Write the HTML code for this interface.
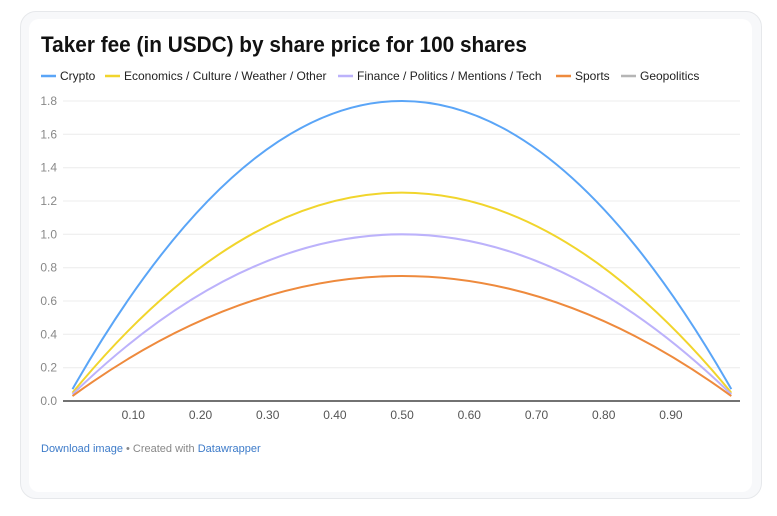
<!DOCTYPE html>
<html><head><meta charset="utf-8"><style>
html,body{margin:0;padding:0;background:#fff;}
body{width:777px;height:516px;position:relative;overflow:hidden;font-family:"Liberation Sans",Roboto,sans-serif;}
.outer{position:absolute;left:20px;top:11px;width:742px;height:488px;border:1px solid #e6e8eb;border-radius:16px;background:#f7f8fa;box-sizing:border-box;}
.inner{position:absolute;left:29px;top:19px;width:723px;height:473px;border-radius:10px;background:#fff;}
</style></head><body>
<div class="outer"></div><div class="inner"></div>
<svg width="777" height="516" style="position:absolute;left:0;top:0" font-family="Liberation Sans, sans-serif">
<text x="41" y="52" font-size="22" font-weight="bold" fill="#111" textLength="486" lengthAdjust="spacingAndGlyphs">Taker fee (in USDC) by share price for 100 shares</text>
<g font-size="12" fill="#222">
<line x1="41" y1="76" x2="56" y2="76" stroke="#5aa5f7" stroke-width="2.5"/><text x="60" y="80">Crypto</text>
<line x1="105" y1="76" x2="120" y2="76" stroke="#f1d52c" stroke-width="2.5"/><text x="124" y="80">Economics / Culture / Weather / Other</text>
<line x1="338" y1="76" x2="353" y2="76" stroke="#bcb2fb" stroke-width="2.5"/><text x="357" y="80">Finance / Politics / Mentions / Tech</text>
<line x1="556" y1="76" x2="571" y2="76" stroke="#ee8a3d" stroke-width="2.5"/><text x="575" y="80">Sports</text>
<line x1="621" y1="76" x2="636" y2="76" stroke="#b5b5b5" stroke-width="2.5"/><text x="640" y="80">Geopolitics</text>
</g>
<g stroke="#ececec" stroke-width="1">
<line x1="63" x2="740" y1="101" y2="101"/><line x1="63" x2="740" y1="134.3" y2="134.3"/><line x1="63" x2="740" y1="167.7" y2="167.7"/><line x1="63" x2="740" y1="201" y2="201"/><line x1="63" x2="740" y1="234.3" y2="234.3"/><line x1="63" x2="740" y1="267.7" y2="267.7"/><line x1="63" x2="740" y1="301" y2="301"/><line x1="63" x2="740" y1="334.3" y2="334.3"/><line x1="63" x2="740" y1="367.7" y2="367.7"/>
</g>
<g font-size="12" fill="#888" text-anchor="end">
<text x="57" y="105">1.8</text><text x="57" y="138.3">1.6</text><text x="57" y="171.7">1.4</text><text x="57" y="205">1.2</text><text x="57" y="238.3">1.0</text><text x="57" y="271.7">0.8</text><text x="57" y="305">0.6</text><text x="57" y="338.3">0.4</text><text x="57" y="371.7">0.2</text><text x="57" y="405">0.0</text>
</g>
<g fill="none" stroke-width="2">
<path d="M72.5 389.1 Q401.9 -187.2 731.3 389.1" stroke="#5aa5f7"/>
<path d="M72.5 392.75 Q401.9 -7.5 731.3 392.75" stroke="#f1d52c"/>
<path d="M72.5 394.4 Q401.9 74.2 731.3 394.4" stroke="#bcb2fb"/>
<path d="M72.5 396.05 Q401.9 155.9 731.3 396.05" stroke="#ee8a3d"/>
</g>
<line x1="63" x2="740" y1="401" y2="401" stroke="#444" stroke-width="1.5"/>
<g font-size="12" fill="#555" text-anchor="middle">
<text x="133.3" y="419">0.10</text><text x="200.5" y="419">0.20</text><text x="267.7" y="419">0.30</text><text x="334.9" y="419">0.40</text><text x="402.1" y="419">0.50</text><text x="469.3" y="419">0.60</text><text x="536.5" y="419">0.70</text><text x="603.7" y="419">0.80</text><text x="670.9" y="419">0.90</text>
</g>
<text x="41" y="452" font-size="11" fill="#888"><tspan fill="#3d7bc9">Download image</tspan> • Created with <tspan fill="#3d7bc9">Datawrapper</tspan></text>
</svg>
</body></html>
